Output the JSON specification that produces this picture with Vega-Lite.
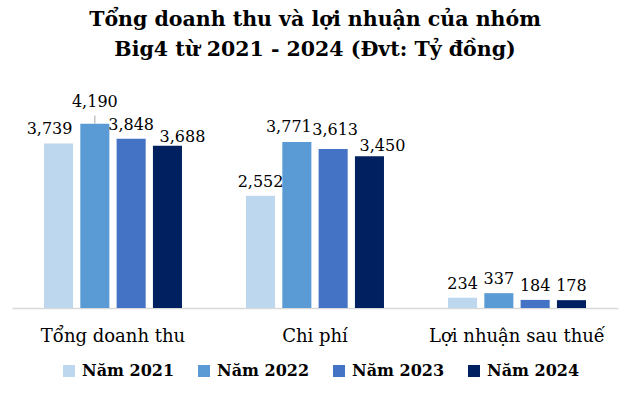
{
  "$schema": "https://vega.github.io/schema/vega-lite/v6.json",
  "autosize": {"type": "none"},
  "width": 606,
  "height": 198,
  "padding": {"left": 12, "top": 110, "right": 17, "bottom": 90},
  "background": "white",
  "title": {
    "text": ["Tổng doanh thu và lợi nhuận của nhóm", "Big4 từ 2021 - 2024 (Đvt: Tỷ đồng)"],
    "font": "DejaVu Serif",
    "fontSize": 20.5,
    "fontWeight": "bold",
    "color": "#000000",
    "lineHeight": 30,
    "anchor": "middle",
    "offset": 33
  },
  "data": {
    "values": [
      {"category": "Tổng doanh thu", "year": "Năm 2021", "value": 3739},
      {"category": "Tổng doanh thu", "year": "Năm 2022", "value": 4190},
      {"category": "Tổng doanh thu", "year": "Năm 2023", "value": 3848},
      {"category": "Tổng doanh thu", "year": "Năm 2024", "value": 3688},
      {"category": "Chi phí", "year": "Năm 2021", "value": 2552},
      {"category": "Chi phí", "year": "Năm 2022", "value": 3771},
      {"category": "Chi phí", "year": "Năm 2023", "value": 3613},
      {"category": "Chi phí", "year": "Năm 2024", "value": 3450},
      {"category": "Lợi nhuận sau thuế", "year": "Năm 2021", "value": 234},
      {"category": "Lợi nhuận sau thuế", "year": "Năm 2022", "value": 337},
      {"category": "Lợi nhuận sau thuế", "year": "Năm 2023", "value": 184},
      {"category": "Lợi nhuận sau thuế", "year": "Năm 2024", "value": 178}
    ]
  },
  "encoding": {
    "x": {
      "field": "category",
      "type": "nominal",
      "sort": ["Tổng doanh thu", "Chi phí", "Lợi nhuận sau thuế"],
      "scale": {"paddingInner": 0.317, "paddingOuter": 0.1585},
      "axis": {
        "title": null,
        "labelAngle": 0,
        "labelFont": "DejaVu Serif",
        "labelFontSize": 18,
        "labelColor": "#000000",
        "labelPadding": 19,
        "ticks": false,
        "domainColor": "#D9D9D9",
        "domainWidth": 1.5
      }
    },
    "xOffset": {
      "field": "year",
      "type": "nominal",
      "scale": {"paddingInner": 0.2, "paddingOuter": 0}
    },
    "y": {
      "field": "value",
      "type": "quantitative",
      "scale": {"domain": [0, 4500], "nice": false},
      "axis": null
    },
    "text": {"field": "value", "type": "quantitative", "format": ","}
  },
  "layer": [
    {
      "mark": {"type": "bar"},
      "encoding": {
        "text": null,
        "color": {
          "field": "year",
          "type": "nominal",
          "scale": {
            "domain": ["Năm 2021", "Năm 2022", "Năm 2023", "Năm 2024"],
            "range": ["#BDD7EE", "#5B9BD5", "#4472C4", "#002060"]
          },
          "legend": {
            "title": null,
            "orient": "none",
            "direction": "horizontal",
            "legendX": 49,
            "legendY": 253,
            "symbolType": "square",
            "symbolSize": 144,
            "symbolStrokeWidth": 0,
            "labelFont": "DejaVu Serif",
            "labelFontSize": 16,
            "labelFontWeight": "bold",
            "labelColor": "#000000",
            "labelOffset": 5,
            "columnPadding": 21
          }
        }
      }
    },
    {
      "transform": [{"filter": "indexof([2552, 3848, 234, 337, 184, 178], datum.value) >= 0"}],
      "mark": {"type": "text", "baseline": "bottom", "dy": -6, "font": "DejaVu Serif", "fontSize": 16, "color": "#000000"}
    },
    {
      "transform": [{"filter": "datum.value === 3739"}],
      "mark": {"type": "text", "baseline": "bottom", "dx": -9, "dy": -6, "font": "DejaVu Serif", "fontSize": 16, "color": "#000000"}
    },
    {
      "transform": [{"filter": "datum.value === 3688"}],
      "mark": {"type": "text", "baseline": "bottom", "dx": 15, "dy": -1, "font": "DejaVu Serif", "fontSize": 16, "color": "#000000"}
    },
    {
      "transform": [{"filter": "datum.value === 3771"}],
      "mark": {"type": "text", "baseline": "bottom", "dx": -8, "dy": -7, "font": "DejaVu Serif", "fontSize": 16, "color": "#000000"}
    },
    {
      "transform": [{"filter": "datum.value === 3613"}],
      "mark": {"type": "text", "baseline": "bottom", "dx": 2, "dy": -11, "font": "DejaVu Serif", "fontSize": 16, "color": "#000000"}
    },
    {
      "transform": [{"filter": "datum.value === 3450"}],
      "mark": {"type": "text", "baseline": "bottom", "dx": 13, "dy": -2, "font": "DejaVu Serif", "fontSize": 16, "color": "#000000"}
    },
    {
      "transform": [{"filter": "datum.value === 4190"}],
      "mark": {"type": "text", "baseline": "bottom", "dy": -14, "font": "DejaVu Serif", "fontSize": 16, "color": "#000000"}
    },
    {
      "transform": [{"filter": "datum.value === 4190"}],
      "mark": {"type": "rule", "color": "#A6A6A6", "strokeWidth": 1, "y2Offset": -8},
      "encoding": {
        "text": null,
        "y2": {"field": "value"}
      }
    }
  ],
  "config": {
    "view": {"stroke": null}
  }
}
